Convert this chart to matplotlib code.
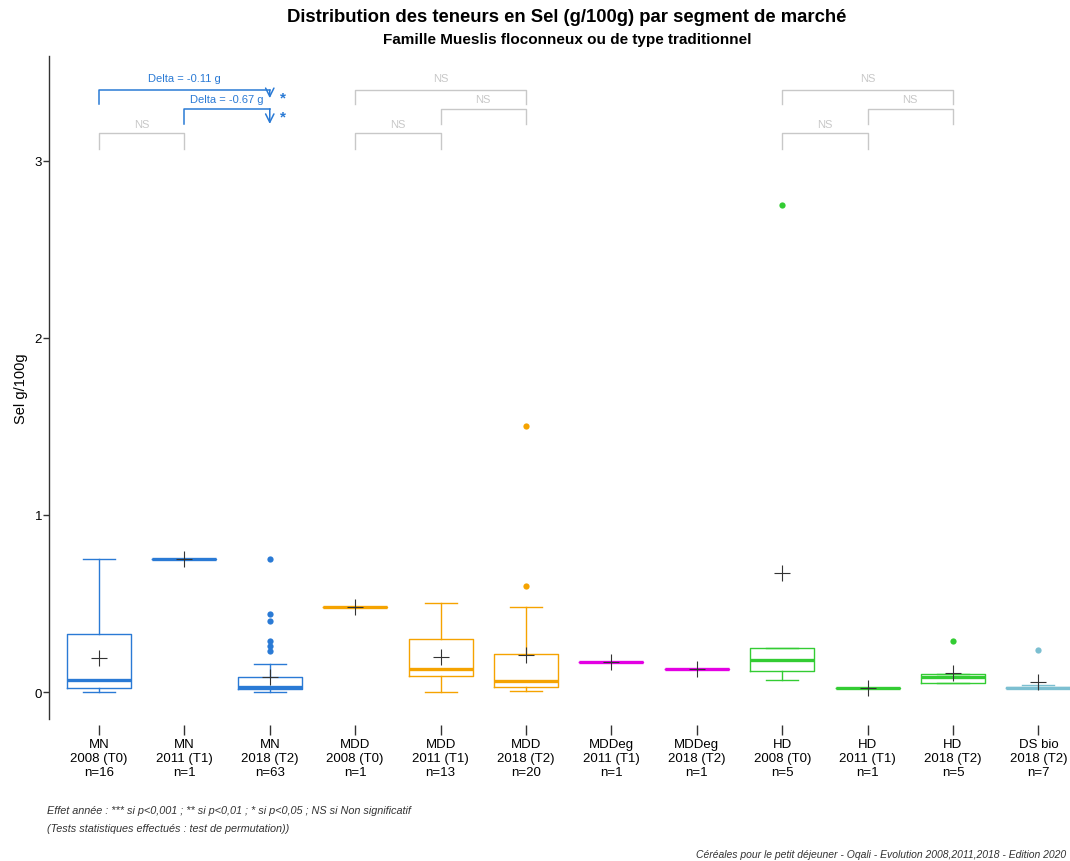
import matplotlib
matplotlib.use("Agg")
import matplotlib.pyplot as plt

plt.rcParams['font.family'] = ['Liberation Sans', 'DejaVu Sans']

# --- données (Sel g/100g) ---
segments = ["MN", "MN", "MN", "MDD", "MDD", "MDD", "MDDeg", "MDDeg", "HD", "HD", "HD", "DS bio"]
annees = ["2008 (T0)", "2011 (T1)", "2018 (T2)", "2008 (T0)", "2011 (T1)", "2018 (T2)",
          "2011 (T1)", "2018 (T2)", "2008 (T0)", "2011 (T1)", "2018 (T2)", "2018 (T2)"]
n_obs = [16, 1, 63, 1, 13, 20, 1, 1, 5, 1, 5, 7]

whislo = [0.0, 0.75, 0.0, 0.48, 0.0, 0.008, 0.17, 0.13, 0.07, 0.025, 0.05, 0.02]
q1 = [0.02, 0.75, 0.017, 0.48, 0.09, 0.027, 0.17, 0.13, 0.12, 0.025, 0.05, 0.02]
med = [0.07, 0.75, 0.027, 0.48, 0.13, 0.064, 0.17, 0.13, 0.18, 0.025, 0.083, 0.025]
q3 = [0.33, 0.75, 0.086, 0.48, 0.30, 0.215, 0.17, 0.13, 0.25, 0.025, 0.10, 0.03]
whishi = [0.75, 0.75, 0.158, 0.48, 0.50, 0.48, 0.17, 0.13, 0.25, 0.025, 0.10, 0.04]
moyennes = [0.19, 0.75, 0.085, 0.48, 0.20, 0.21, 0.17, 0.13, 0.67, 0.025, 0.11, 0.055]
outliers = [[], [], [0.75, 0.44, 0.40, 0.29, 0.26, 0.23], [], [], [1.5, 0.6],
            [], [], [2.75], [], [0.29], [0.24]]

couleurs_segment = {
    "MN": "#2a7ad5",
    "MDD": "#f5a300",
    "MDDeg": "#e300e3",
    "HD": "#33cc33",
    "DS bio": "#7cbfd1",
}

# comparaisons : (groupe a, groupe b, niveau, texte, significatif)
comparaisons = [
    (1, 3, 0, "Delta = -0.11 g", True),
    (2, 3, 1, "Delta = -0.67 g", True),
    (1, 2, 2, "NS", False),
    (4, 6, 0, "NS", False),
    (5, 6, 1, "NS", False),
    (4, 5, 2, "NS", False),
    (9, 11, 0, "NS", False),
    (10, 11, 1, "NS", False),
    (9, 10, 2, "NS", False),
]

positions = list(range(1, len(segments) + 1))
stats = []
for i in range(len(segments)):
    stats.append({
        "whislo": whislo[i], "q1": q1[i], "med": med[i], "q3": q3[i],
        "whishi": whishi[i], "mean": moyennes[i], "fliers": outliers[i],
    })

fig = plt.figure(figsize=(10.7, 8.62), dpi=100)
ax = fig.add_axes([49 / 1070, 142 / 862, 1 - 49 / 1070, 663 / 862])

res = ax.bxp(stats, positions=positions, widths=0.75, showmeans=True,
             meanprops=dict(marker="+", markersize=12, markeredgecolor="#333333",
                            markeredgewidth=0.8, linestyle="none"),
             boxprops=dict(linewidth=1.0),
             whiskerprops=dict(linewidth=1.0),
             capprops=dict(linewidth=1.0),
             medianprops=dict(linewidth=2.4),
             flierprops=dict(marker="o", markersize=4.5, markeredgewidth=0))

for i, seg in enumerate(segments):
    c = couleurs_segment[seg]
    res["boxes"][i].set_color(c)
    res["medians"][i].set_color(c)
    for k in (2 * i, 2 * i + 1):
        res["whiskers"][k].set_color(c)
        res["caps"][k].set_color(c)
    res["fliers"][i].set_markerfacecolor(c)
    res["means"][i].set_zorder(5)

# crochets de significativité (haut, bas des pattes, texte, étoile)
niveaux = [(3.401, 3.322, 3.469, 3.358), (3.294, 3.209, 3.350, 3.254), (3.158, 3.068, 3.209, 0)]
bleu = couleurs_segment["MN"]
for a, b, lvl, txt, sig in comparaisons:
    y_top, y_bas, y_txt, y_star = niveaux[lvl]
    col = bleu if sig else "#c8c8c8"
    if sig:
        ax.plot([a, a, b], [y_bas, y_top, y_top], color=col, lw=1.1)
        tip = 3.355 if lvl == 0 else y_bas
        ax.annotate("", xy=(b, tip), xytext=(b, y_top),
                    arrowprops=dict(arrowstyle="->,head_length=0.6,head_width=0.3",
                                    color=col, lw=1.1, shrinkA=0, shrinkB=0))
        ax.text(b + 0.15, y_star, "*", color=col, fontsize=11,
                fontweight="bold", ha="center", va="center")
    else:
        ax.plot([a, a, b, b], [y_bas, y_top, y_top, y_bas], color=col, lw=1.0)
    ax.text((a + b) / 2, y_txt, txt, color=col, fontsize=8,
            ha="center", va="center")

ax.set_xlim(0.415, 12.37)
ax.set_ylim(-0.1525, 3.593)
ax.set_yticks([0, 1, 2, 3])
ax.set_xticks(positions, [f"{s}\n{a}\nn={n}" for s, a, n in zip(segments, annees, n_obs)],
              linespacing=1.0)

for s in ("top", "right"):
    ax.spines[s].set_visible(False)
ax.spines["bottom"].set_position(("outward", 4))
ax.spines["bottom"].set_visible(False)
ax.spines["left"].set_color("#333333")
ax.spines["left"].set_linewidth(1.0)
ax.tick_params(axis="x", length=7, width=1.0, color="#333333", labelsize=9.5, pad=3)
ax.tick_params(axis="y", length=4, width=1.0, color="#333333", labelsize=9.5, pad=1)
ax.set_ylabel("Sel g/100g", fontsize=10.5, labelpad=5)

fig.text(567 / 1070, 1 - 18 / 862, "Distribution des teneurs en Sel (g/100g) par segment de marché",
         ha="center", va="center", fontsize=13.3, fontweight="bold")
fig.text(567 / 1070, 1 - 40 / 862, "Famille Mueslis floconneux ou de type traditionnel",
         ha="center", va="center", fontsize=11, fontweight="bold")

fig.text(47 / 1070, 1 - 811 / 862,
         "Effet année : *** si p<0,001 ; ** si p<0,01 ; * si p<0,05 ; NS si Non significatif",
         ha="left", va="center", fontsize=7.8, style="italic", color="#333333")
fig.text(47 / 1070, 1 - 829 / 862, "(Tests statistiques effectués : test de permutation))",
         ha="left", va="center", fontsize=7.8, style="italic", color="#333333")
fig.text(1066 / 1070, 1 - 855 / 862,
         "Céréales pour le petit déjeuner - Oqali - Evolution 2008,2011,2018 - Edition 2020",
         ha="right", va="center", fontsize=7.5, style="italic", color="#333333")

fig.savefig("out.png", dpi=100)
